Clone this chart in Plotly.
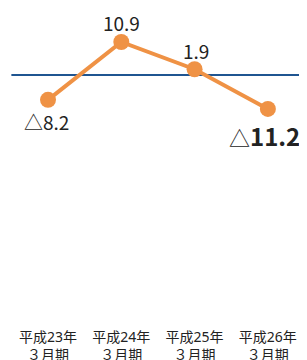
import plotly.graph_objects as go

categories = ["平成23年<br>３月期", "平成24年<br>３月期", "平成25年<br>３月期", "平成26年<br>３月期"]
values = [-8.2, 10.9, 1.9, -11.2]
value_labels = ["△8.2", "10.9", "1.9", "△<span style='font-size:24px'><b>11.2</b></span>"]
label_shift = [-22, 19, 19, -27]
label_xshift = [-2, 0, 1, 34]
label_anchor = ["center", "center", "center", "right"]
label_size = [19, 19, 19, 21]

x = list(range(len(categories)))

fig = go.Figure()
fig.add_trace(go.Scatter(
    x=x, y=values, mode="lines+markers",
    line=dict(color="#ef9245", width=4),
    marker=dict(color="#ef9245", size=16),
    hoverinfo="skip", cliponaxis=False,
))

for xi, v, t, s, xs, xa, fs in zip(x, values, value_labels, label_shift, label_xshift,
                                   label_anchor, label_size):
    fig.add_annotation(x=xi, y=v, text=t, showarrow=False, yshift=s, xshift=xs,
                       xanchor=xa, yanchor="middle",
                       font=dict(family="Noto Sans CJK JP", size=fs, color="#222"))

# zero line
fig.add_shape(type="line", x0=-0.5, x1=3.5, y0=0, y1=0, xref="x", yref="y",
              line=dict(color="#1f5591", width=2), layer="below")

fig.update_layout(
    width=299, height=360,
    margin=dict(l=0, r=0, t=0, b=41),
    paper_bgcolor="white", plot_bgcolor="white",
    showlegend=False,
    xaxis=dict(range=[-0.546, 3.534], tickmode="array", tickvals=x, ticktext=categories,
               showgrid=False, zeroline=False, showline=False, ticks="",
               automargin=False,
               tickfont=dict(family="Noto Sans, Noto Sans CJK JP", size=14, color="#222")),
    yaxis=dict(range=[-83.17, 22.11], visible=False, showgrid=False, zeroline=False),
)

fig.write_html("out.html")
